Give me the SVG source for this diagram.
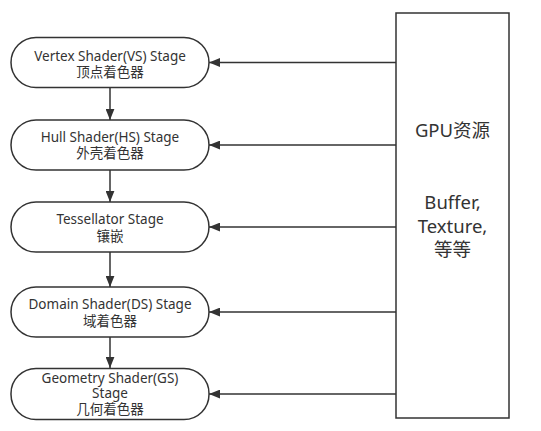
<svg xmlns="http://www.w3.org/2000/svg" width="541" height="431" viewBox="0 0 541 431">
<style>
.node{fill:#fff;stroke:#333;stroke-width:1.5}
.t{font-family:"Noto Sans","Noto Sans CJK SC",sans-serif;font-size:13.5px;fill:#333;text-anchor:middle;dominant-baseline:central}
.g{font-family:"Noto Sans","Noto Sans CJK SC",sans-serif;font-size:18.5px;fill:#333;text-anchor:middle;dominant-baseline:central}
.c{stroke:#333;stroke-width:1.5;fill:none}
</style>
<defs>
<marker id="ah" viewBox="0 0 10 8" refX="10" refY="4" markerWidth="11" markerHeight="9" markerUnits="userSpaceOnUse" orient="auto">
<path d="M0,0 L10,4 L0,8 Z" fill="#333"/>
</marker>
</defs>
<rect width="541" height="431" fill="#fff"/>
<g id="connectors">
<line class="c" x1="110" y1="87" x2="110" y2="120" marker-end="url(#ah)"/>
<line class="c" x1="110" y1="170" x2="110" y2="202" marker-end="url(#ah)"/>
<line class="c" x1="110" y1="252" x2="110" y2="287" marker-end="url(#ah)"/>
<line class="c" x1="110" y1="337" x2="110" y2="368" marker-end="url(#ah)"/>
<line class="c" x1="396" y1="62.5" x2="209" y2="62.5" marker-end="url(#ah)"/>
<line class="c" x1="396" y1="145" x2="209" y2="145" marker-end="url(#ah)"/>
<line class="c" x1="396" y1="227" x2="209" y2="227" marker-end="url(#ah)"/>
<line class="c" x1="396" y1="312" x2="209" y2="312" marker-end="url(#ah)"/>
<line class="c" x1="396" y1="394" x2="209" y2="394" marker-end="url(#ah)"/>
</g>
<g id="vs">
<rect class="node" x="11" y="37.5" width="198" height="50" rx="25"/>
<text class="t" x="110" y="56">Vertex Shader(VS) Stage</text>
<text class="t" x="110" y="72">顶点着色器</text>
</g>
<g id="hs">
<rect class="node" x="11" y="120" width="198" height="50" rx="25"/>
<text class="t" x="110" y="137">Hull Shader(HS) Stage</text>
<text class="t" x="110" y="153">外壳着色器</text>
</g>
<g id="ts">
<rect class="node" x="11" y="202" width="198" height="50" rx="25"/>
<text class="t" x="110" y="219">Tessellator Stage</text>
<text class="t" x="110" y="236">镶嵌</text>
</g>
<g id="ds">
<rect class="node" x="11" y="287" width="198" height="50" rx="25"/>
<text class="t" x="110" y="304">Domain Shader(DS) Stage</text>
<text class="t" x="110" y="320.5">域着色器</text>
</g>
<g id="gs">
<rect class="node" x="11" y="368.5" width="198" height="51" rx="25"/>
<text class="t" x="110" y="377.5">Geometry Shader(GS)</text>
<text class="t" x="110" y="393">Stage</text>
<text class="t" x="110" y="409">几何着色器</text>
</g>
<g id="gpu">
<rect class="node" x="396" y="13" width="113" height="405"/>
<text class="g" x="452.5" y="129">GPU资源</text>
<text class="g" x="452.5" y="201">Buffer,</text>
<text class="g" x="452.5" y="225">Texture,</text>
<text class="g" x="452.5" y="248">等等</text>
</g>
</svg>
